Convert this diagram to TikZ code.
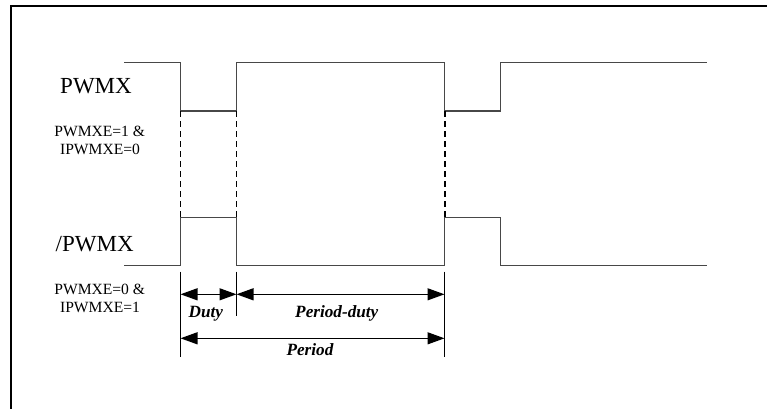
\documentclass[tikz,border=0pt]{standalone}
\usepackage{fontspec}
\setmainfont{Liberation Serif}
\usetikzlibrary{arrows.meta}
\begin{document}
\begin{tikzpicture}[x=1pt,y=-1pt,
  sig/.style={draw=black!72,line width=1.3pt},
  guide/.style={draw=black,line width=1.1pt,dash pattern=on 6pt off 4pt},
  tick/.style={draw=black,line width=1.2pt},
  dim/.style={draw=black,line width=1.2pt,{Triangle[length=17pt,width=12pt]}-{Triangle[length=17pt,width=12pt]}},
  big/.style={font=\fontsize{23}{27}\selectfont,inner sep=0pt,anchor=base},
  small/.style={font=\fontsize{15.6}{18}\selectfont,inner sep=0pt,anchor=base},
  lab/.style={font=\fontsize{17.2}{20}\selectfont\bfseries\itshape,inner sep=0pt,anchor=base}]
\useasboundingbox (0,0) rectangle (767,408);
% frame
\draw[line width=2pt] (11,409) -- (11,6) -- (768,6);
% edge coordinates
\coordinate (uA) at (180.5,111);  \coordinate (lA) at (180.5,217.3);
\coordinate (uB) at (236.5,111);  \coordinate (lB) at (236.5,217.3);
\coordinate (uC) at (445,111);    \coordinate (lC) at (445,217.3);
% upper signal
\draw[sig] (124,62.5) -- (180.5,62.5) -- (180.5,111) -- (236.5,111) -- (236.5,62.5)
  -- (444.5,62.5) -- (444.5,111) -- (500.5,111) -- (500.5,62.5) -- (707,62.5);
% lower signal
\draw[sig] (124,265.3) -- (180.5,265.3) -- (180.5,217.3) -- (236.5,217.3) -- (236.5,265.3)
  -- (444.5,265.3) -- (444.5,217.3) -- (500.5,217.3) -- (500.5,265.3) -- (707,265.3);
% dashed guides
\draw[guide] (uA) -- (lA);
\draw[guide] (uB) -- (lB);
\draw[guide] (uC) -- (lC);
% ticks
\coordinate (tA1) at (180.5,271.7); \coordinate (tA2) at (180.5,357);
\coordinate (tB1) at (236.5,271.7); \coordinate (tB2) at (236.5,316);
\coordinate (tC1) at (444.5,271.7); \coordinate (tC2) at (444.5,357);
\draw[tick] (tA1) -- (tA2);
\draw[tick] (tB1) -- (tB2);
\draw[tick] (tC1) -- (tC2);
% dimension arrows
\coordinate (dA) at (180.5,294.3); \coordinate (dB) at (236.5,294.3); \coordinate (dC) at (444.5,294.3);
\coordinate (pA) at (180.5,338.3); \coordinate (pC) at (444.5,338.3);
\draw[dim] (dA) -- (dB);
\draw[dim] (dB) -- (dC);
\draw[dim] (pA) -- (pC);
% labels
\node[lab] (duty) at (205.8,317.7) {Duty};
\node[lab] (pduty) at (336.8,317.7) {Period-duty};
\node[lab] (period) at (310,355) {Period};
\node[big] (pwmx) at (96,93.3) {PWMX};
\node[big] (npwmx) at (94.7,251.7) {/PWMX};
\node[small] (c1a) at (99.7,136) {PWMXE=1 \&};
\node[small] (c1b) at (100,154.3) {IPWMXE=0};
\node[small] (c2a) at (99.7,294.3) {PWMXE=0 \&};
\node[small] (c2b) at (100,312.3) {IPWMXE=1};
\end{tikzpicture}
\end{document}
